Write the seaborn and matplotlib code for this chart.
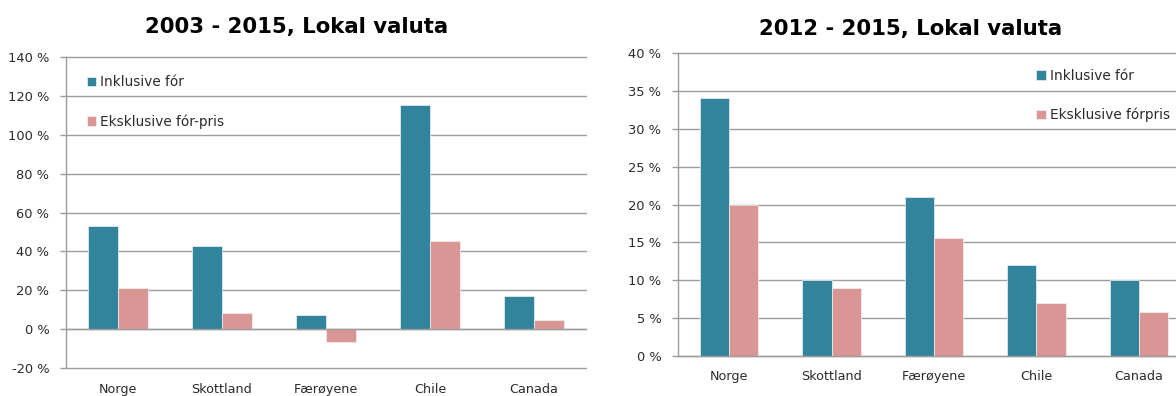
import matplotlib
matplotlib.use("Agg")
import matplotlib.pyplot as plt
from matplotlib.ticker import FixedLocator, FuncFormatter
import pandas as pd
import seaborn as sns

categories = ["Norge", "Skottland", "Færøyene", "Chile", "Canada"]

# 2003 - 2015
title_a = "2003 - 2015, Lokal valuta"
series_a = ["Inklusive fór", "Eksklusive fór-pris"]
incl_a = [53, 43, 7.3, 115.5, 17]
excl_a = [21, 8.5, -6.8, 45.5, 4.8]
yticks_a = [-20, 0, 20, 40, 60, 80, 100, 120, 140]

# 2012 - 2015
title_b = "2012 - 2015, Lokal valuta"
series_b = ["Inklusive fór", "Eksklusive fórpris"]
incl_b = [34, 10, 21, 12, 10]
excl_b = [20, 9, 15.6, 7, 5.8]
yticks_b = [0, 5, 10, 15, 20, 25, 30, 35, 40]

TEAL = "#31849B"
PINK = "#D99694"
GRID = "#9C9C9C"
TEXT = "#2B2B2B"

sns.set_style("white")
plt.rcParams["font.family"] = ["DejaVu Sans"]

fig = plt.figure(figsize=(11.76, 3.96), dpi=100)


def long_frame(series, incl, excl):
    rows = []
    for cat, v in zip(categories, incl):
        rows.append({"land": cat, "serie": series[0], "verdi": v})
    for cat, v in zip(categories, excl):
        rows.append({"land": cat, "serie": series[1], "verdi": v})
    return pd.DataFrame(rows)


def draw(ax, df, series, yticks, title, label_pad, legend_xy, title_xy):
    sns.barplot(data=df, x="land", y="verdi", hue="serie", hue_order=series,
                order=categories, palette=[TEAL, PINK], saturation=1,
                width=0.57, gap=0, edgecolor="#F2F2F2", linewidth=0.5,
                errorbar=None, ax=ax)
    ax.set_xlim(-0.5, len(categories) - 0.5)
    ax.set_ylim(yticks[0], yticks[-1])
    ax.set_xlabel("")
    ax.set_ylabel("")

    # horizontal gridlines
    ax.yaxis.set_major_locator(FixedLocator(yticks))
    ax.yaxis.set_major_formatter(FuncFormatter(lambda v, p: f"{v:.0f} %"))
    ax.grid(axis="y", color=GRID, linewidth=1.0)
    ax.grid(axis="x", visible=False)
    ax.set_axisbelow(True)
    for gl in ax.get_ygridlines():
        gl.set_clip_on(False)

    for side in ("top", "right"):
        ax.spines[side].set_visible(False)
    ax.spines["left"].set_color(GRID)
    ax.spines["left"].set_linewidth(1.0)
    ax.spines["bottom"].set_color(GRID)
    ax.spines["bottom"].set_linewidth(1.0)
    ax.spines["bottom"].set_position(("data", 0))

    # category ticks sit between the groups
    ax.xaxis.set_minor_locator(FixedLocator([i + 0.5 for i in range(len(categories))]))
    ax.tick_params(axis="x", which="major", length=0, pad=label_pad,
                   labelsize=9.2, labelcolor=TEXT)
    ax.tick_params(axis="x", which="minor", length=4.3, width=1.0,
                   color=GRID, direction="out")
    ax.tick_params(axis="y", which="major", length=4, width=1.0, color=GRID,
                   direction="out", pad=8, labelsize=9.4, labelcolor=TEXT, left=True)

    leg = ax.legend(loc="upper left", bbox_to_anchor=legend_xy, frameon=False,
                    fontsize=9.8, labelspacing=1.85, handlelength=0.7,
                    handleheight=0.7, handletextpad=0.3, borderpad=0,
                    borderaxespad=0)
    for t in leg.get_texts():
        t.set_color(TEXT)

    ax.text(title_xy[0], title_xy[1], title, transform=ax.transAxes,
            ha="center", va="baseline", fontsize=15.3, fontweight="bold",
            color="black")


ax_a = fig.add_axes([66 / 1176, 1 - 368 / 396, 520 / 1176, 311 / 396])
draw(ax_a, long_frame(series_a, incl_a, excl_a), series_a, yticks_a, title_a,
     label_pad=39, legend_xy=(0.04, 0.942), title_xy=(0.444, 1 + 24 / 311))

ax_b = fig.add_axes([678 / 1176, 1 - 356 / 396, 512 / 1176, 303 / 396])
draw(ax_b, long_frame(series_b, incl_b, excl_b), series_b, yticks_b, title_b,
     label_pad=10, legend_xy=(0.70, 0.948), title_xy=(0.455, 1 + 18 / 303))

fig.savefig("out.png", dpi=100)
